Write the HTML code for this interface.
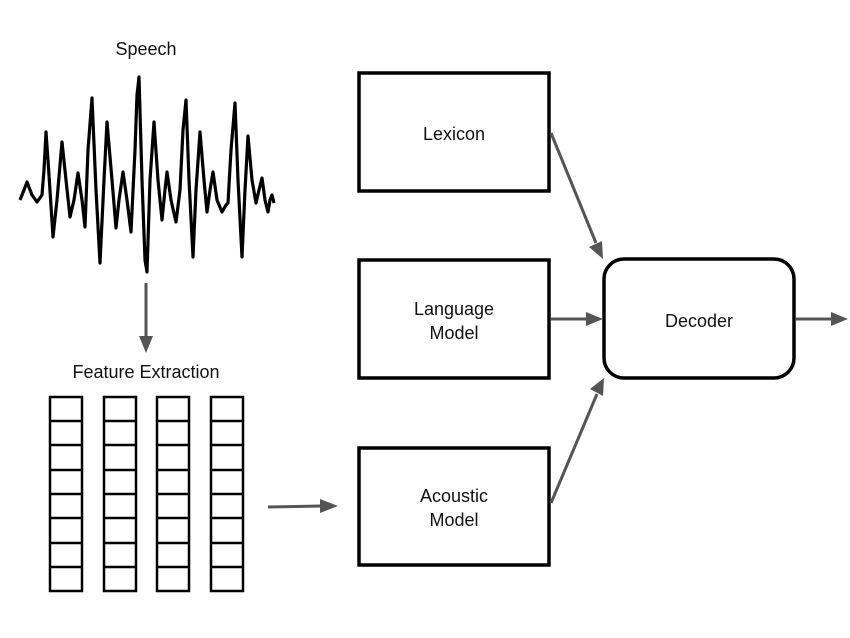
<!DOCTYPE html>
<html><head><meta charset="utf-8"><style>
html,body{margin:0;padding:0;background:#fff;}
svg{display:block;}
text{font-family:"Liberation Sans",sans-serif;font-size:18px;fill:#111;text-anchor:middle;}
</style></head><body>
<svg width="850" height="638" viewBox="0 0 850 638" xmlns="http://www.w3.org/2000/svg">
<text x="146" y="55">Speech</text>
<path d="M20,200 L24,190 L27,182 L32,195 L37,202 L42,195 L44,170 L46,132 L49,175 L53,237 L57,200 L62,142 L66,180 L70,217 L74,200 L78,173 L82,200 L85,227 L88,150 L92,98 L96,190 L100,263 L104,180 L107,122 L112,180 L116,228 L119,200 L123,172 L127,200 L131,232 L135,150 L137,95 L139,77 L142,180 L145,260 L147,272 L150,180 L154,122 L158,180 L162,220 L165,190 L167,172 L171,200 L176,222 L180,190 L183,130 L186,100 L189,180 L193,257 L196,190 L200,132 L204,180 L207,212 L210,190 L213,172 L217,200 L222,212 L226,205 L228,203 L231,150 L235,103 L238,180 L242,257 L245,190 L248,136 L252,180 L256,203 L259,190 L262,178 L265,200 L268,212 L270,200 L272,195 L274,203" fill="none" stroke="#000" stroke-width="3.2" stroke-linejoin="round"/>
<line x1="146" y1="283" x2="146" y2="338" stroke="#555" stroke-width="3"/>
<polygon points="139,336 153,336 146,353" fill="#555"/>
<text x="146" y="378">Feature Extraction</text>
<g fill="none" stroke="#000" stroke-width="2.5">
<rect x="50" y="397" width="32" height="194"/>
<rect x="104" y="397" width="32" height="194"/>
<rect x="157" y="397" width="32" height="194"/>
<rect x="211" y="397" width="32" height="194"/>
<path d="M50,421H82M50,445H82M50,470H82M50,494H82M50,518H82M50,543H82M50,567H82"/>
<path d="M104,421H136M104,445H136M104,470H136M104,494H136M104,518H136M104,543H136M104,567H136"/>
<path d="M157,421H189M157,445H189M157,470H189M157,494H189M157,518H189M157,543H189M157,567H189"/>
<path d="M211,421H243M211,445H243M211,470H243M211,494H243M211,518H243M211,543H243M211,567H243"/>
</g>
<g fill="#fff" stroke="#000" stroke-width="3.5">
<rect x="359" y="73" width="190" height="118"/>
<rect x="359" y="260" width="190" height="118"/>
<rect x="359" y="448" width="190" height="117"/>
<rect x="604" y="259" width="190" height="119" rx="20" ry="20"/>
</g>
<text x="454" y="140">Lexicon</text>
<text x="454" y="315">Language</text>
<text x="454" y="339">Model</text>
<text x="454" y="502">Acoustic</text>
<text x="454" y="526">Model</text>
<text x="699" y="327">Decoder</text>
<g stroke="#555" stroke-width="3">
<line x1="551" y1="133" x2="596" y2="243"/>
<line x1="551" y1="319" x2="588" y2="319"/>
<line x1="551" y1="503" x2="597" y2="394"/>
<line x1="796" y1="319" x2="832" y2="319"/>
<line x1="268" y1="507" x2="322" y2="506"/>
</g>
<g fill="#555">
<polygon points="603,259 589,247 602,241"/>
<polygon points="603,319 586,312 586,326"/>
<polygon points="604,378 590,389 603,396"/>
<polygon points="848,319 831,312 831,326"/>
<polygon points="338,506 320,499 320,513"/>
</g>
</svg>
</body></html>
